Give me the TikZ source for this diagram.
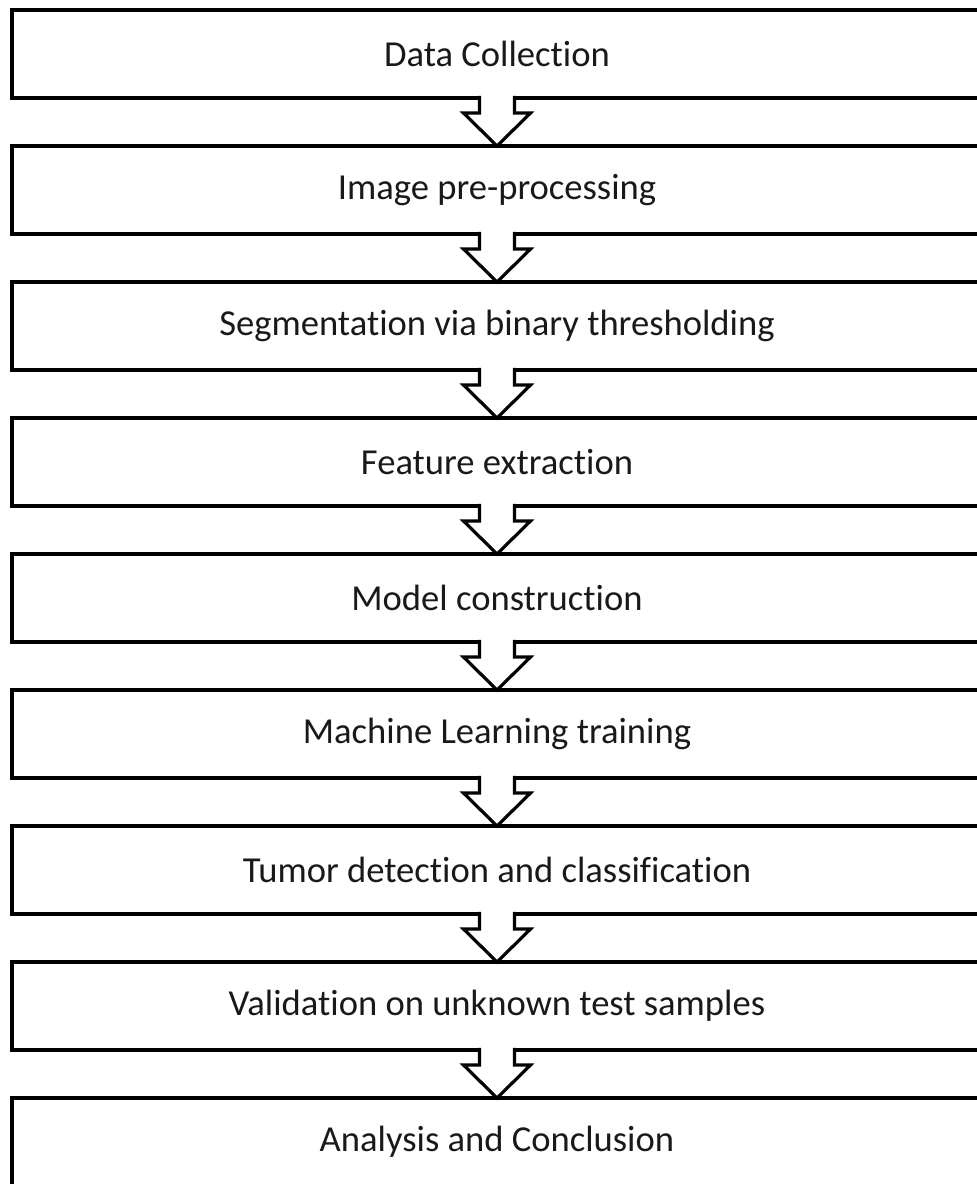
\documentclass[tikz,border=0pt]{standalone}
\usepackage{fontspec}
\setmainfont[Ligatures=NoCommon]{Carlito}
\usetikzlibrary{positioning,calc}

\begin{document}
\begin{tikzpicture}
\tikzset{stage/.style={draw,rectangle,line width=1.6pt,minimum width=485pt,minimum height=44pt,outer sep=0pt,inner sep=0pt,text=black!90,font=\fontsize{18.3}{22}\selectfont}}
\tikzset{blockarrow/.style={draw,fill=white,line width=1.6pt}}
\tikzset{node distance=24pt}

\useasboundingbox (0,0) rectangle (488.5pt,-592pt);
\clip (0,0) rectangle (488.5pt,-592pt);

\node[stage] (collect) at (248.5pt,-27pt) {Data Collection};
\node[stage,below=of collect] (preproc) {Image pre-processing};
\node[stage,below=of preproc] (segment) {Segmentation via binary thresholding};
\node[stage,below=of segment] (feature) {Feature extraction};
\node[stage,below=of feature] (model) {Model construction};
\node[stage,below=of model] (train) {Machine Learning training};
\node[stage,below=of train] (detect) {Tumor detection and classification};
\node[stage,below=of detect] (valid) {Validation on unknown test samples};
\node[stage,below=of valid] (concl) {Analysis and Conclusion};

% block arrows from each stage down to the next one
\foreach \u/\l in {collect/preproc,preproc/segment,segment/feature,feature/model,model/train,train/detect,detect/valid,valid/concl}
  \draw[blockarrow] ($(\u.south)+(-8.75pt,1.1pt)$) -- ++(0,-8.6pt) -- ++(-8pt,0) -- (\l.north) -- ($(\u.south)+(16.75pt,-7.5pt)$) -- ++(-8pt,0) -- ++(0,8.6pt);

\end{tikzpicture}
\end{document}
